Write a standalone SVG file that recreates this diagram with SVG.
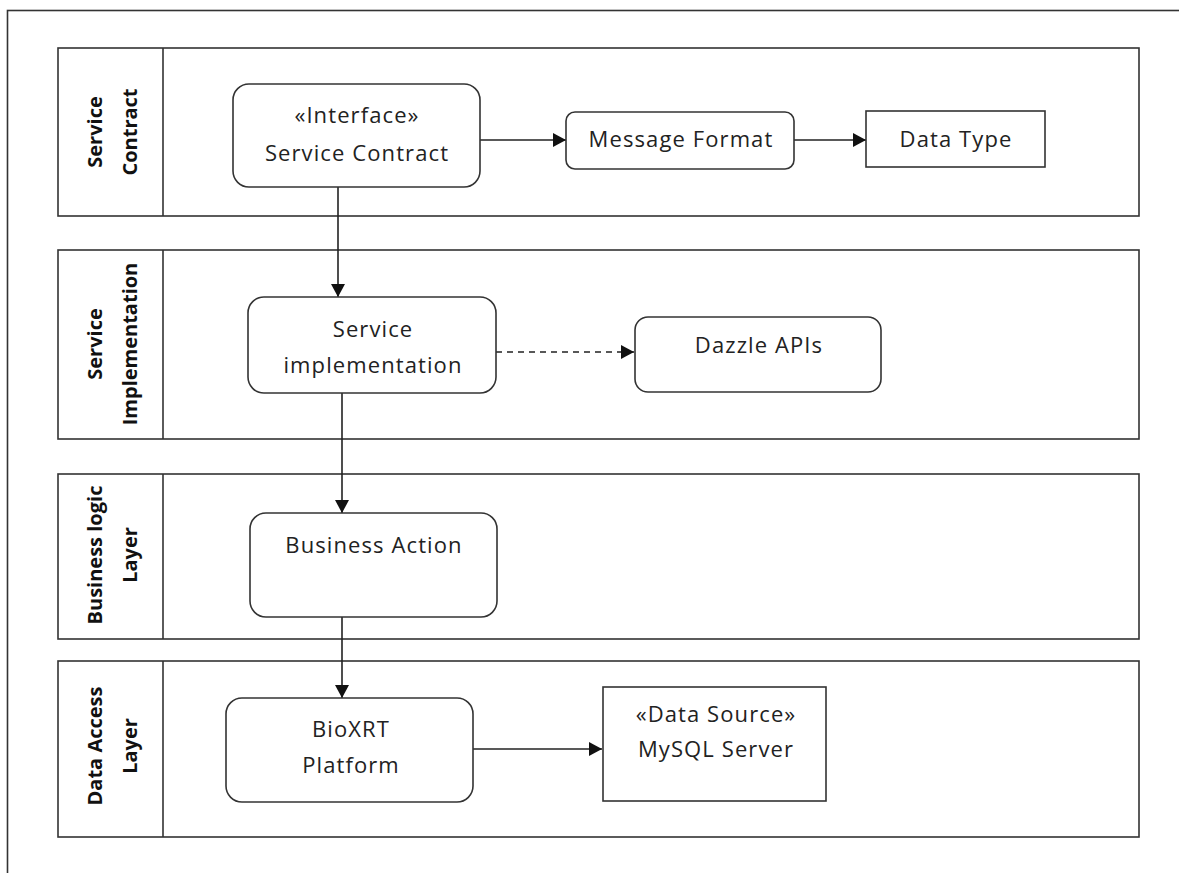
<svg xmlns="http://www.w3.org/2000/svg" width="1179" height="873" viewBox="0 0 1179 873">
<defs>
<style>
.frame{fill:none;stroke:#333;stroke-width:1.6}
.lane{fill:#fff;stroke:#333;stroke-width:1.6}
.node{fill:#fff;stroke:#333;stroke-width:1.6}
.t{font-family:"Open Sans","Liberation Sans",sans-serif;font-size:22px;letter-spacing:1.1px;fill:#222;text-anchor:middle}
.lt{font-family:"Open Sans","Liberation Sans",sans-serif;font-size:20px;font-weight:bold;fill:#111;text-anchor:middle}
.c{fill:none;stroke:#222;stroke-width:1.6}
.d{stroke-dasharray:6,5}
</style>
<marker id="ah" viewBox="0 0 13 14" refX="13" refY="7" markerWidth="13" markerHeight="14" markerUnits="userSpaceOnUse" orient="auto">
<path d="M0,0 L13,7 L0,14 Z" fill="#111"/>
</marker>
</defs>
<rect width="1179" height="873" fill="#fff"/>
<rect class="frame" x="7.5" y="10.5" width="1200" height="900"/>

<g id="lane-service-contract">
<rect class="lane" x="58" y="48" width="1081" height="168"/>
<line class="lane" x1="163" y1="48" x2="163" y2="216"/>
<text class="lt" transform="translate(102,132) rotate(-90)">Service</text>
<text class="lt" transform="translate(137,132) rotate(-90)">Contract</text>
</g>
<g id="lane-service-implementation">
<rect class="lane" x="58" y="250" width="1081" height="189"/>
<line class="lane" x1="163" y1="250" x2="163" y2="439"/>
<text class="lt" transform="translate(102,344) rotate(-90)">Service</text>
<text class="lt" transform="translate(137,344) rotate(-90)">Implementation</text>
</g>
<g id="lane-business-logic">
<rect class="lane" x="58" y="474" width="1081" height="165"/>
<line class="lane" x1="163" y1="474" x2="163" y2="639"/>
<text class="lt" transform="translate(102,555) rotate(-90)">Business logic</text>
<text class="lt" transform="translate(137,555) rotate(-90)">Layer</text>
</g>
<g id="lane-data-access">
<rect class="lane" x="58" y="661" width="1081" height="176"/>
<line class="lane" x1="163" y1="661" x2="163" y2="837"/>
<text class="lt" transform="translate(102,746) rotate(-90)">Data Access</text>
<text class="lt" transform="translate(137,746) rotate(-90)">Layer</text>
</g>

<g id="connectors">
<line class="c" x1="480" y1="140" x2="566" y2="140" marker-end="url(#ah)"/>
<line class="c" x1="794" y1="140" x2="866" y2="140" marker-end="url(#ah)"/>
<line class="c" x1="338" y1="187" x2="338" y2="297" marker-end="url(#ah)"/>
<line class="c d" x1="496" y1="352" x2="634" y2="352" marker-end="url(#ah)"/>
<line class="c" x1="342" y1="393" x2="342" y2="513" marker-end="url(#ah)"/>
<line class="c" x1="342" y1="617" x2="342" y2="698" marker-end="url(#ah)"/>
<line class="c" x1="473" y1="749" x2="602" y2="749" marker-end="url(#ah)"/>
</g>

<g id="node-service-contract">
<rect class="node" x="233" y="84" width="247" height="103" rx="16"/>
<text class="t" x="357" y="123">«Interface»</text>
<text class="t" x="357" y="161">Service Contract</text>
</g>
<g id="node-message-format">
<rect class="node" x="566" y="112" width="228" height="57" rx="9"/>
<text class="t" x="681" y="147">Message Format</text>
</g>
<g id="node-data-type">
<rect class="node" x="866" y="111" width="179" height="56"/>
<text class="t" x="956" y="147">Data Type</text>
</g>
<g id="node-service-implementation">
<rect class="node" x="248" y="297" width="248" height="96" rx="16"/>
<text class="t" x="373" y="337">Service</text>
<text class="t" x="373" y="373">implementation</text>
</g>
<g id="node-dazzle-apis">
<rect class="node" x="635" y="317" width="246" height="75" rx="13"/>
<text class="t" x="759" y="353">Dazzle APIs</text>
</g>
<g id="node-business-action">
<rect class="node" x="250" y="513" width="247" height="104" rx="16"/>
<text class="t" x="374" y="553">Business Action</text>
</g>
<g id="node-bioxrt">
<rect class="node" x="226" y="698" width="247" height="104" rx="16"/>
<text class="t" x="351" y="737">BioXRT</text>
<text class="t" x="351" y="773">Platform</text>
</g>
<g id="node-mysql">
<rect class="node" x="603" y="687" width="223" height="114"/>
<text class="t" x="716" y="722">«Data Source»</text>
<text class="t" x="716" y="757">MySQL Server</text>
</g>
</svg>
